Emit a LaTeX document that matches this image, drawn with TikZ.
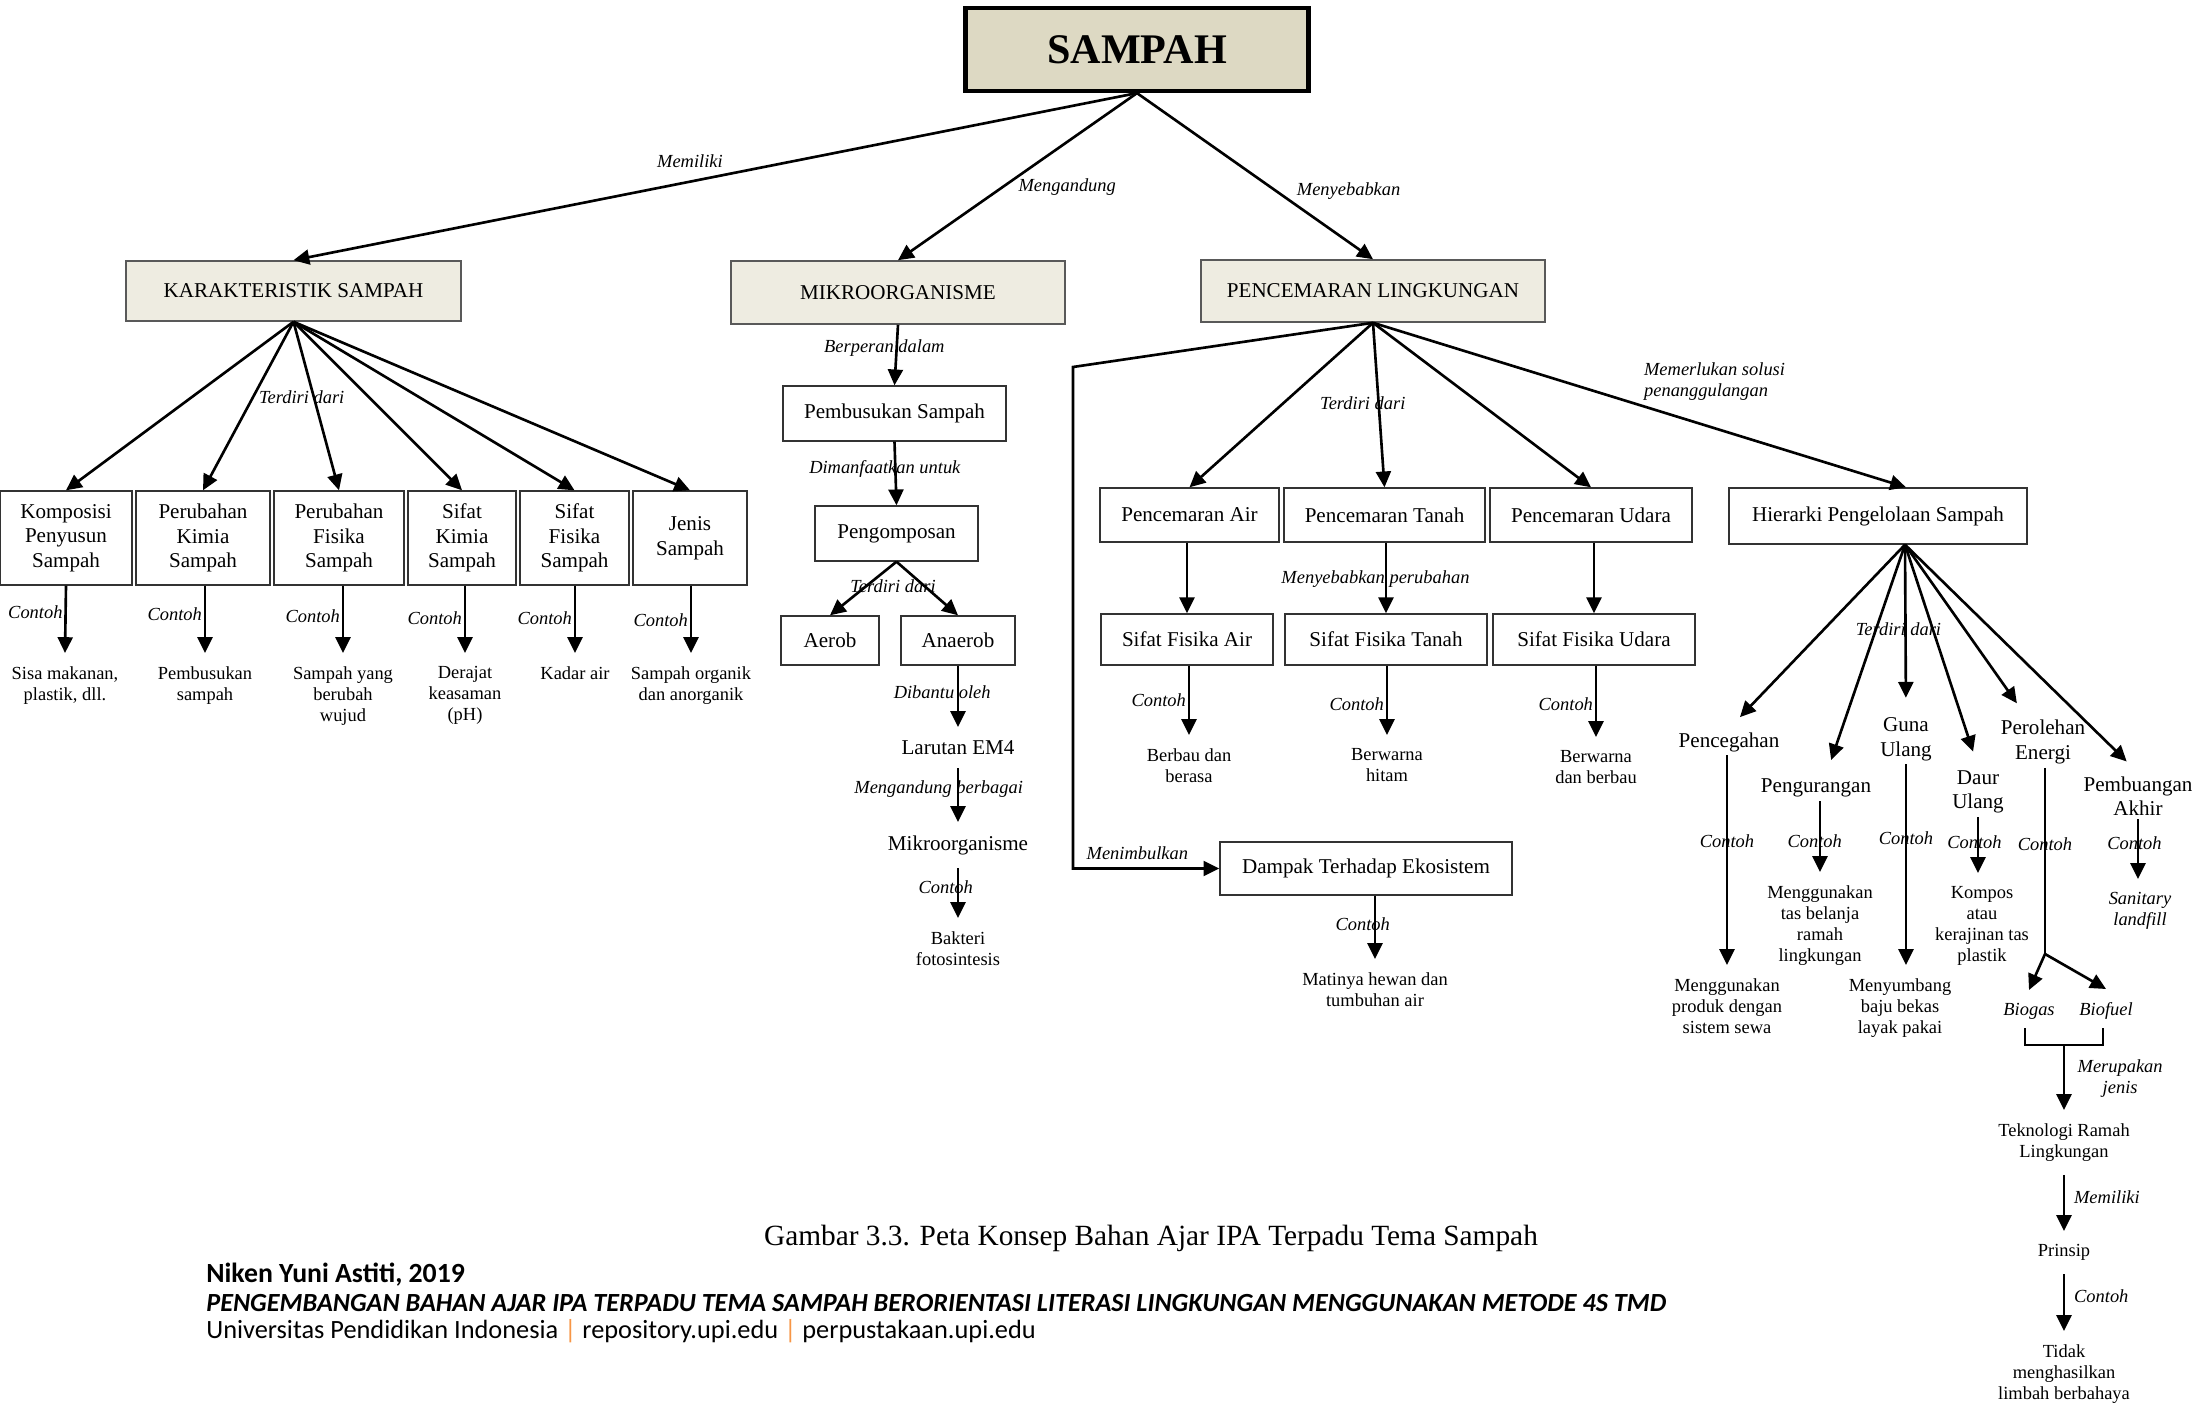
\documentclass[tikz,border=0pt]{standalone}
\usepackage{fontspec}
\setmainfont{Liberation Serif}
\newfontfamily\footfont{Carlito}
\usepackage{tikz}
\usetikzlibrary{positioning}
\usetikzlibrary{arrows.meta}
\definecolor{tanbox}{HTML}{DDD9C3}
\definecolor{tanlight}{HTML}{EEECE1}
\definecolor{upiorange}{HTML}{F79646}

\begin{document}
\begin{tikzpicture}[x=0.02cm,y=-0.02cm,
  box/.style={draw=black!80,line width=0.8pt,align=center,inner sep=0pt,font=\fontsize{12}{14}\selectfont},
  topbox/.style={box,fill=tanlight,draw=black!65,line width=0.9pt},
  txt/.style={align=center,inner sep=2pt,font=\fontsize{12}{14}\selectfont},
  ex/.style={align=center,anchor=north,inner xsep=1pt,inner ysep=7.5pt,font=\fontsize{10.5}{12}\selectfont},
  lbl/.style={inner sep=1pt,font=\fontsize{10.5}{12}\selectfont\itshape},
  arr/.style={-{Triangle[length=9pt,width=8.5pt]},line width=1.5pt},
  ln/.style={line width=1.5pt}]
\useasboundingbox (0,0) rectangle (2197,1405);

\node[draw,line width=2.4pt,fill=tanbox,minimum width=6.86cm,minimum height=1.66cm,font=\fontsize{24}{28}\selectfont\bfseries] (sampah) at (1137,49.5) {SAMPAH};

\node[topbox,minimum width=6.7cm,minimum height=1.2cm] (karak) at (293.5,291) {KARAKTERISTIK SAMPAH};
\node[topbox,minimum width=6.68cm,minimum height=1.26cm] (mikro) at (898,292.5) {MIKROORGANISME};
\node[topbox,minimum width=6.88cm,minimum height=1.24cm] (pl) at (1373,291) {PENCEMARAN LINGKUNGAN};

\path[arr] (sampah.south) edge node[lbl,above=6pt,pos=.53] {Memiliki} (karak.north)
  edge node[lbl,right=7pt,pos=.56] {Mengandung} (mikro.north)
  edge node[lbl,right=10pt,pos=.59] {Menyebabkan} (pl.north);

\node[box,minimum width=2.64cm,minimum height=1.88cm] (kps) at (66,538) {Komposisi\\Penyusun\\Sampah};
\node[box,minimum width=2.68cm,minimum height=1.88cm] (pkm) at (203,538) {Perubahan\\Kimia\\Sampah};
\node[box,minimum width=2.6cm,minimum height=1.88cm] (pfs) at (339,538) {Perubahan\\Fisika\\Sampah};
\node[box,minimum width=2.16cm,minimum height=1.88cm] (skm) at (462,538) {Sifat\\Kimia\\Sampah};
\node[box,minimum width=2.18cm,minimum height=1.88cm] (sfs) at (574.5,538) {Sifat\\Fisika\\Sampah};
\node[box,minimum width=2.28cm,minimum height=1.88cm] (jns) at (690,538) {Jenis\\Sampah};

\path[arr] (karak.south) edge (kps.north) edge (pkm.north)
  edge node[lbl,pos=.45,xshift=-7pt] {Terdiri dari} (pfs.north)
  edge (skm.north) edge (sfs.north) edge (jns.north);

\node[ex] (e1) at (65,653) {Sisa makanan,\\plastik, dll.};
\node[ex] (e2) at (205,653) {Pembusukan\\sampah};
\node[ex] (e3) at (343,653) {Sampah yang\\berubah\\wujud};
\node[ex] (e4) at (465,653) {Derajat\\keasaman\\(pH)};
\node[ex] (e5) at (575,653) {Kadar air};
\node[ex] (e6) at (691,653) {Sampah organik\\dan anorganik};

\path[arr] (kps.south) edge node[lbl,left,pos=.4] {Contoh} (e1.north);
\path[arr] (pkm.south -| e2.north) edge node[lbl,left,pos=.43] {Contoh} (e2.north);
\path[arr] (pfs.south -| e3.north) edge node[lbl,left,pos=.46] {Contoh} (e3.north);
\path[arr] (skm.south -| e4.north) edge node[lbl,left,pos=.49] {Contoh} (e4.north);
\path[arr] (sfs.south -| e5.north) edge node[lbl,left,pos=.49] {Contoh} (e5.north);
\path[arr] (jns.south -| e6.north) edge node[lbl,left,pos=.51] {Contoh} (e6.north);

\node[box,minimum width=4.46cm,minimum height=1.1cm] (pbs) at (894.5,413.5) {Pembusukan Sampah};
\node[box,minimum width=3.26cm,minimum height=1.1cm] (pgm) at (896.5,533.5) {Pengomposan};
\node[box,minimum width=1.96cm,minimum height=0.98cm] (aer) at (830,640.5) {Aerob};
\node[box,minimum width=2.28cm,minimum height=0.98cm] (ana) at (958,640.5) {Anaerob};
\node[txt,anchor=north,inner ysep=7.5pt] (em4) at (958,727) {Larutan EM4};
\node[txt,anchor=north,inner ysep=7.5pt] (mkr) at (958,822) {Mikroorganisme};
\node[ex] (bkt) at (958,918) {Bakteri\\fotosintesis};

\path[arr] (mikro.south) edge node[lbl,pos=.39,xshift=-7pt] {Berperan dalam} (pbs.north);
\path[arr] (pbs.south) edge node[lbl,pos=.43,xshift=-6pt] {Dimanfaatkan untuk} (pgm.north);
\path[arr] (pgm.south) edge (aer.north) edge (ana.north);
\node[lbl] (tdpgm) at (893,586) {Terdiri dari};
\path[arr] (ana.south) edge node[lbl,pos=.44,xshift=-9pt] {Dibantu oleh} (em4.north);
\path[arr] (em4.south) edge node[lbl,pos=.38,xshift=-11pt] {Mengandung berbagai} (mkr.north);
\path[arr] (mkr.south) edge node[lbl,pos=.38,xshift=-7pt] {Contoh} (bkt.north);

\node[box,minimum width=3.58cm,minimum height=1.08cm] (pa) at (1189.5,515) {Pencemaran Air};
\node[box,minimum width=4.02cm,minimum height=1.08cm] (pt) at (1384.5,515) {Pencemaran Tanah};
\node[box,minimum width=4.04cm,minimum height=1.08cm] (pu) at (1591,515) {Pencemaran Udara};
\node[box,minimum width=3.44cm,minimum height=1.02cm] (sfa) at (1187,639.5) {Sifat Fisika Air};
\node[box,minimum width=4.04cm,minimum height=1.02cm] (sft) at (1386,639.5) {Sifat Fisika Tanah};
\node[box,minimum width=4.04cm,minimum height=1.02cm] (sfu) at (1594,639.5) {Sifat Fisika Udara};

\path[arr] (pl.south) edge (pa.north)
  edge node[lbl,pos=.49,xshift=-9pt] {Terdiri dari} (pt.north)
  edge (pu.north);
\path[arr] (pa.south -| sfa.north) edge (sfa.north);
\path[arr] (pt.south -| sft.north) edge node[lbl,pos=.51,xshift=-6pt] {Menyebabkan perubahan} (sft.north);
\path[arr] (pu.south -| sfu.north) edge (sfu.north);

\node[ex] (ba) at (1189,735) {Berbau dan\\berasa};
\node[ex] (bh) at (1387,735) {Berwarna\\hitam};
\node[ex] (bb) at (1596,737) {Berwarna\\dan berbau};
\path[arr] (sfa.south -| ba.north) edge node[lbl,left,pos=.5] {Contoh} (ba.north);
\path[arr] (sft.south -| bh.north) edge node[lbl,left,pos=.56] {Contoh} (bh.north);
\path[arr] (sfu.south -| bb.north) edge node[lbl,left,pos=.54] {Contoh} (bb.north);

\node[box,minimum width=5.84cm,minimum height=1.06cm] (dmp) at (1366,868.5) {Dampak Terhadap Ekosistem};
\coordinate (belok1) at (1073,367);
\coordinate (belok2) at (1073,868.5);
\draw[arr] (pl.south) -- (belok1) -- (belok2) -- node[lbl,above=3pt,pos=.44] {Menimbulkan} (dmp.west);
\node[ex] (mhw) at (1375,959) {Matinya hewan dan\\tumbuhan air};
\path[arr] (dmp.south -| mhw.north) edge node[lbl,pos=.45,xshift=-7pt] {Contoh} (mhw.north);

\node[box,minimum width=5.96cm,minimum height=1.12cm] (hpk) at (1878,516) {Hierarki Pengelolaan Sampah};
\path[arr] (pl.south) edge ([xshift=0.56cm]hpk.north);
\node[lbl,align=left,anchor=west] (mls) at (1642,382) {Memerlukan solusi\\penanggulangan};

\node[txt] (pcg) at (1729,742) {Pencegahan};
\node[txt] (pgr) at (1816,788) {Pengurangan};
\node[txt] (gul) at (1906,739) {Guna\\Ulang};
\node[txt] (dul) at (1978,792) {Daur\\Ulang};
\node[txt] (pen) at (2043,742) {Perolehan\\Energi};
\node[txt] (pba) at (2138,796) {Pembuangan\\Akhir};

\coordinate (hfan) at ([xshift=0.54cm]hpk.south);
\path[arr,shorten >=9pt] (hfan) edge (pcg.north) edge ([xshift=0.2cm]pgr.north)
  edge node[lbl,pos=.5,xshift=-4pt] {Terdiri dari} (gul.north)
  edge (dul.north) edge ([xshift=-0.34cm]pen.north) edge (pba.north);

\node[ex] (ex1) at (1727,965) {Menggunakan\\produk dengan\\sistem sewa};
\node[ex] (ex2) at (1820,872) {Menggunakan\\tas belanja\\ramah\\lingkungan};
\node[ex] (ex3) at (1900,965) {Menyumbang\\baju bekas\\layak pakai};
\node[ex] (ex4) at (1982,873) {Kompos\\atau\\kerajinan tas\\plastik};
\node[ex,font=\fontsize{10.5}{12}\selectfont\itshape] (ex6) at (2140,879) {Sanitary\\landfill};

\path[arr] (pcg.south -| ex1.north) edge node[lbl,pos=.41] {Contoh} (ex1.north);
\path[arr] (pgr.south -| ex2.north) edge node[lbl,pos=.57,xshift=-3pt] {Contoh} (ex2.north);
\path[arr] (gul.south) edge node[lbl,pos=.37] {Contoh} (gul.south |- ex3.north);
\path[arr] (dul.south) edge node[lbl,pos=.45,xshift=-2pt] {Contoh} (dul.south |- ex4.north);
\path[arr] (pba.south) edge node[lbl,pos=.39,xshift=-2pt] {Contoh} (pba.south |- ex6.north);

\coordinate (cab) at (2045,954);
\draw[ln] (pen.south -| cab) -- node[lbl,pos=.41] {Contoh} (cab);
\node[ex,font=\fontsize{10.5}{12}\selectfont\itshape] (bgas) at (2029,990) {Biogas};
\node[ex,font=\fontsize{10.5}{12}\selectfont\itshape] (bful) at (2106,989) {Biofuel};
\path[arr] (cab) edge (bgas.north) edge (bful.north);

\coordinate (krL) at (2025,1045);
\coordinate (krR) at (2103,1045);
\coordinate (krM) at (2064,1045);
\draw[line width=1pt] (krL) ++(0,-17) -- (krL) -- (krR) -- ++(0,-17);
\node[ex] (tek) at (2064,1110) {Teknologi Ramah\\Lingkungan};
\node[ex] (prs) at (2064,1231) {Prinsip};
\node[ex] (tdk) at (2064,1331) {Tidak\\menghasilkan\\limbah berbahaya};
\path[arr] (krM) edge node[lbl,align=center,right=6pt,pos=.52] {Merupakan\\jenis} (tek.north);
\path[arr] (tek.south) edge node[lbl,right=4pt,pos=.4] {Memiliki} (prs.north);
\path[arr] (prs.south) edge node[lbl,right=4pt,pos=.38] {Contoh} (tdk.north);

\node[font=\fontsize{16.7}{20}\selectfont] (cap) at (1151,1238) {Gambar 3.3. Peta Konsep Bahan Ajar IPA Terpadu Tema Sampah};
\node[anchor=west,inner sep=0pt,font=\footfont\bfseries\fontsize{15.8}{18}\selectfont] (ft1) at (206,1275) {Niken Yuni Astiti, 2019};
\node[anchor=west,inner sep=0pt,font=\footfont\bfseries\itshape\fontsize{14.9}{18}\selectfont] (ft2) at (206,1303) {PENGEMBANGAN BAHAN AJAR IPA TERPADU TEMA SAMPAH BERORIENTASI LITERASI LINGKUNGAN MENGGUNAKAN METODE 4S TMD};
\node[anchor=west,inner sep=0pt,font=\footfont\fontsize{15}{18}\selectfont] (ft3) at (206,1331) {Universitas Pendidikan Indonesia {\color{upiorange}|} repository.upi.edu {\color{upiorange}|} perpustakaan.upi.edu};
\end{tikzpicture}
\end{document}
